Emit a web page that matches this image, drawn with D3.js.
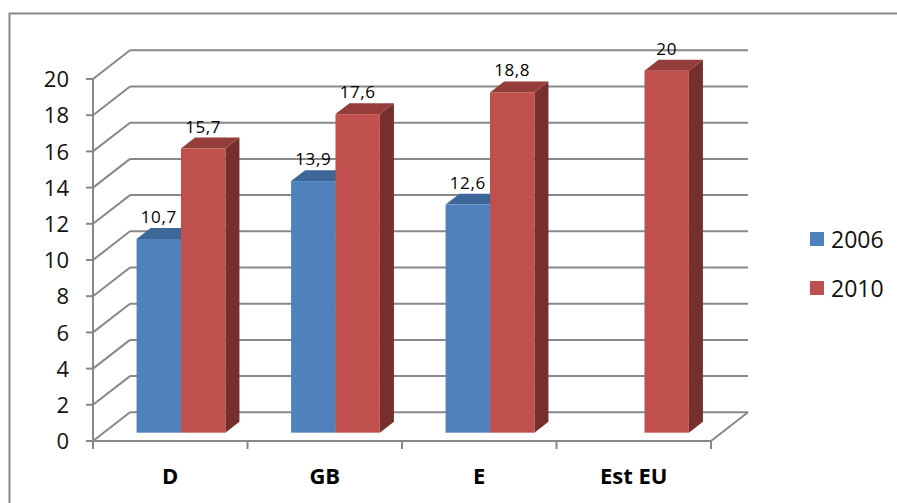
<!DOCTYPE html>
<html lang="en">
<head>
    <meta charset="UTF-8">
    <script src="https://cdn.jsdelivr.net/npm/d3@7/dist/d3.min.js"></script>
    <title>2006 / 2010</title>
    <style>
        body { margin: 0; background: #fff; }
        svg { display: block; font-family: "Open Sans", sans-serif; }
    </style>
</head>
<body>
    <svg id="chart"></svg>
<script>
    const categories = ["D", "GB", "E", "Est EU"];
    const series = ["2006", "2010"];
    const values2006 = [10.7, 13.9, 12.6, null];
    const values2010 = [15.7, 17.6, 18.8, 20];
    const yTicks = [0, 2, 4, 6, 8, 10, 12, 14, 16, 18, 20];

    const colors = {
        "2006": {front: "#4f81bd", top: "#3d6699", side: "#2f4f77"},
        "2010": {front: "#c0504d", top: "#953d3b", side: "#772f2d"}
    };

    const width = 897, height = 503;
    const gridColor = "#888";

    // oblique offset of the back wall
    const dx = 37, dy = -28.7;
    // bars sit between these depth fractions
    const d0 = 0.29, d1 = 0.67;

    const svg = d3.select("#chart")
        .attr("width", width)
        .attr("height", height);

    // chart border (only top and left show in the frame)
    svg.append("rect")
        .attr("x", 9.5).attr("y", 13.5)
        .attr("width", 900).attr("height", 520)
        .attr("fill", "none")
        .attr("stroke", gridColor)
        .attr("stroke-width", 2);

    const x0 = d3.scaleBand().domain(categories).range([93, 711]);
    const x1 = d3.scaleBand().domain(series).range([0, x0.bandwidth()]).paddingOuter(0.74);
    const y = d3.scaleLinear().domain([0, 20]).range([441, 79]);

    const grid = svg.append("g")
        .attr("stroke", gridColor)
        .attr("stroke-width", 2)
        .attr("fill", "none");

    // back wall lines + left wall diagonals
    grid.selectAll(".back")
        .data(yTicks)
        .join("line")
        .attr("x1", 93 + dx).attr("x2", 711 + dx)
        .attr("y1", d => y(d) + dy).attr("y2", d => y(d) + dy);

    grid.selectAll(".side")
        .data(yTicks)
        .join("path")
        .attr("d", d => `M93,${y(d)}L${93 + dx},${y(d) + dy}`);

    // floor front + right edge
    grid.append("path")
        .attr("d", `M93,${y(0)}L711,${y(0)}L${711 + dx},${y(0) + dy}`);

    // y axis + ticks
    grid.append("line")
        .attr("x1", 93).attr("x2", 93)
        .attr("y1", y(20)).attr("y2", y(0) + 8);
    grid.selectAll(".ytick")
        .data(yTicks)
        .join("line")
        .attr("x1", 86).attr("x2", 93)
        .attr("y1", d => y(d)).attr("y2", d => y(d));

    // x ticks at category boundaries
    const bounds = categories.map(c => x0(c)).concat([x0.range()[1]]);
    grid.selectAll(".xtick")
        .data(bounds)
        .join("line")
        .attr("x1", d => d).attr("x2", d => d)
        .attr("y1", y(0)).attr("y2", y(0) + 8);

    svg.append("g")
        .selectAll("text")
        .data(yTicks)
        .join("text")
        .attr("x", 69)
        .attr("y", d => y(d))
        .attr("dy", "0.37em")
        .attr("text-anchor", "end")
        .attr("font-size", 22)
        .attr("fill", "#111")
        .text(d => d);

    svg.append("g")
        .selectAll("text")
        .data(categories)
        .join("text")
        .attr("x", d => x0(d) + x0.bandwidth() / 2)
        .attr("y", 484)
        .attr("text-anchor", "middle")
        .attr("font-size", 22)
        .attr("font-weight", "bold")
        .attr("fill", "#000")
        .text(d => d);

    // bars
    const bars = [];
    categories.forEach((c, i) => {
        [[series[0], values2006[i]], [series[1], values2010[i]]].forEach(([s, v]) => {
            if (v == null) return;
            bars.push({cat: c, s, v});
        });
    });

    const ddx = (d1 - d0) * dx, ddy = (d1 - d0) * dy;
    const fmt = v => String(v).replace(".", ",");

    const barG = svg.append("g")
        .selectAll("g")
        .data(bars)
        .join("g");

    barG.each(function(d) {
        const g = d3.select(this);
        const left = x0(d.cat) + x1(d.s) + d0 * dx;
        const right = left + x1.bandwidth();
        const top = y(d.v) + d0 * dy;
        const bot = y(0) + d0 * dy;
        const col = colors[d.s];

        g.append("path")
            .attr("fill", col.side)
            .attr("d", `M${right},${top}L${right + ddx},${top + ddy}L${right + ddx},${bot + ddy}L${right},${bot}Z`);
        g.append("path")
            .attr("fill", col.top)
            .attr("d", `M${left},${top}L${right},${top}L${right + ddx},${top + ddy}L${left + ddx},${top + ddy}Z`);
        g.append("rect")
            .attr("fill", col.front)
            .attr("x", left).attr("y", top)
            .attr("width", right - left).attr("height", bot - top);

        g.append("text")
            .attr("x", (left + right) / 2)
            .attr("y", top + ddy - 5)
            .attr("text-anchor", "middle")
            .attr("font-size", 17)
            .attr("letter-spacing", 0.6)
            .attr("fill", "#000")
            .text(fmt(d.v));
    });

    // legend
    const legend = svg.append("g")
        .selectAll("g")
        .data(series)
        .join("g")
        .attr("transform", (d, i) => `translate(810, ${232 + i * 49})`);

    legend.append("rect")
        .attr("width", 14).attr("height", 14)
        .attr("fill", d => colors[d].front);

    legend.append("text")
        .attr("x", 21)
        .attr("y", 15.5)
        .attr("font-size", 23)
        .attr("fill", "#111")
        .text(d => d);
</script>
</body>
</html>
